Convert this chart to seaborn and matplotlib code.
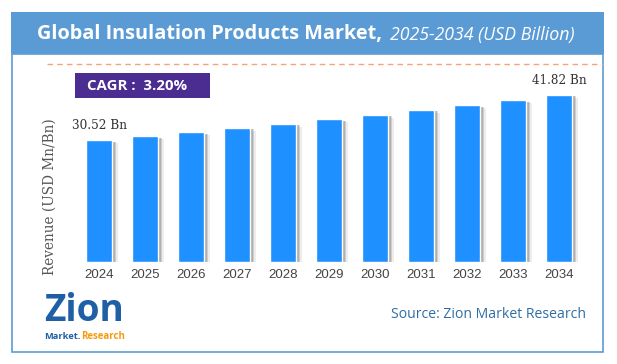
import matplotlib
matplotlib.use("Agg")
import matplotlib.pyplot as plt
import matplotlib.patheffects as pe
from matplotlib.lines import Line2D
from matplotlib.patches import Rectangle
import seaborn as sns
import pandas as pd

years = ["2024", "2025", "2026", "2027", "2028", "2029", "2030", "2031", "2032", "2033", "2034"]
revenue = [30.52, 31.50, 32.50, 33.54, 34.62, 35.72, 36.87, 38.05, 39.26, 40.52, 41.82]
title_main = "Global Insulation Products Market,"
title_sub = "2025-2034 (USD Billion)"
cagr_text = "CAGR :  3.20%"
ylabel = "Revenue (USD Mn/Bn)"
source = "Source: Zion Market Research"

W, H = 617, 364
sns.set_theme(style="white")
plt.rcParams['font.family'] = ['Liberation Sans', 'DejaVu Sans']

fig = plt.figure(figsize=(W / 100, H / 100), dpi=100)
fig.patch.set_facecolor("white")
renderer = fig.canvas.get_renderer()


def fx(x):
    return x / W


def fy(y):
    return 1 - y / H


def fit(t, width):
    bb = t.get_window_extent(renderer=renderer)
    t.set_fontsize(t.get_fontsize() * width / bb.width)


# outer frame
fig.add_artist(Rectangle((fx(12), fy(352)), fx(603) - fx(12), fy(54) - fy(352),
                         transform=fig.transFigure, fill=False, edgecolor="#5B9BD5", lw=1.2))
# title bar
fig.add_artist(Rectangle((fx(11), fy(54)), fx(604) - fx(11), fy(12) - fy(54),
                         transform=fig.transFigure, facecolor="#5B9BD5", edgecolor="none"))
t1 = fig.text(fx(37), fy(34), title_main, color="white", fontweight="bold",
              family=["Open Sans", "DejaVu Sans"], fontsize=15, va="center", ha="left")
fit(t1, 347)
t2 = fig.text(fx(390), fy(35), title_sub, color="white", style="italic",
              family=["Open Sans", "DejaVu Sans"], fontsize=12, va="center", ha="left")
fit(t2, 185)

# dashed line
fig.add_artist(Line2D([fx(47), fx(603)], [fy(64), fy(64)], transform=fig.transFigure,
                      color="#F4A47A", lw=1.0, ls=(0, (4, 3))))

# CAGR box
fig.add_artist(Rectangle((fx(75), fy(98)), fx(210) - fx(75), fy(73) - fy(98),
                         transform=fig.transFigure, facecolor="#4B2C91", edgecolor="none"))
tc = fig.text(fx(87), fy(86), cagr_text, color="white", fontweight="bold",
              family=["Open Sans", "DejaVu Sans"], fontsize=11, va="center", ha="left")
fit(tc, 100)

# axes
top_px, base_px = 70, 262
scale = (base_px - 95) / revenue[-1]
ymax = (base_px - top_px) / scale
ax = fig.add_axes([fx(76), fy(base_px), fx(582) - fx(76), fy(top_px) - fy(base_px)])
df = pd.DataFrame({"year": years, "revenue": revenue})
sns.barplot(data=df, x="year", y="revenue", color="#1E90FF", saturation=1,
            width=0.565, ax=ax)
for p in ax.patches:
    p.set_path_effects([
        pe.SimplePatchShadow(offset=(4, -2), shadow_rgbFace="#888888", alpha=0.15),
        pe.SimplePatchShadow(offset=(3, -1), shadow_rgbFace="#777777", alpha=0.25),
        pe.SimplePatchShadow(offset=(2, -1), shadow_rgbFace="#666666", alpha=0.3),
        pe.Normal()])
ax.set_ylim(0, ymax)
ax.set_xlim(-0.5, len(years) - 0.5)
ax.set_yticks([])
ax.set_xlabel("")
ax.set_ylabel("")
for s in ax.spines.values():
    s.set_visible(False)
ax.set_facecolor("none")
ax.tick_params(axis="x", length=0, pad=5, labelsize=9.5, colors="#444444")

for i in (0, len(years) - 1):
    a = ax.annotate(f"{revenue[i]:.2f} Bn", (i, revenue[i]), xytext=(0, 8), textcoords="offset pixels",
                    ha="center", va="bottom", family=["DejaVu Serif"],
                    fontsize=9, color="#333333")
    fit(a, 55)

yl = fig.text(fx(50), fy(197), ylabel, rotation=90, va="center", ha="center",
              family=["DejaVu Serif"], fontsize=9, color="#555555")
bb = yl.get_window_extent(renderer=renderer)
yl.set_fontsize(yl.get_fontsize() * 157 / bb.height)

# source
ts = fig.text(fx(391), fy(314), source, color="#2E6DA4", family=["Open Sans", "DejaVu Sans"],
              fontsize=10, va="center", ha="left")
fit(ts, 194)

# logo approximation
tz = fig.text(fx(44), fy(321), "Zion", color="#1F5FA6", fontweight="bold",
              family=["Open Sans", "DejaVu Sans"], fontsize=22, va="baseline", ha="left")
fit(tz, 80)
zb = tz.get_window_extent(renderer=renderer)
row_y = zb.y0 - 9  # display coords (pixels from bottom)
tm = fig.text(fx(44), row_y / H, "Market.", color="#1F5FA6", fontweight="bold",
              family=["Open Sans", "DejaVu Sans"], fontsize=7, va="baseline", ha="left")
fit(tm, 36)
mb = tm.get_window_extent(renderer=renderer)
tr = fig.text((mb.x1 + 1) / W, row_y / H, "Research", color="#F39C12", fontweight="bold",
              family=["Open Sans", "DejaVu Sans"], fontsize=7, va="baseline", ha="left")
fit(tr, 44)

fig.savefig("out.png", dpi=100)
